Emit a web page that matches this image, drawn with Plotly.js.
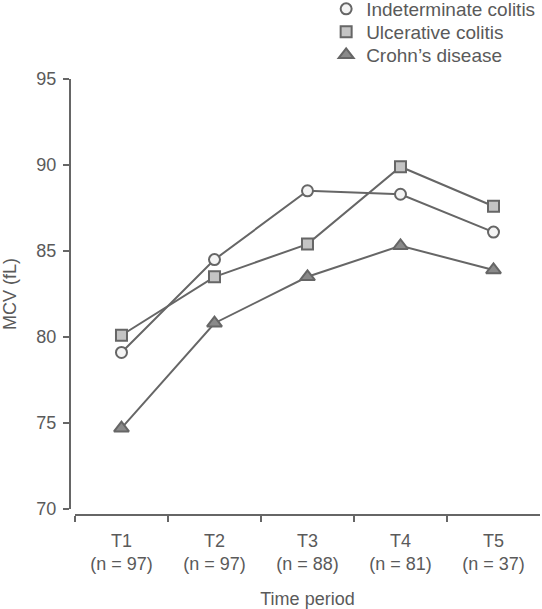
<!DOCTYPE html>
<html>
<head>
<meta charset="utf-8">
<script src="https://cdn.plot.ly/plotly-3.0.1.min.js"></script>
<style>html,body{margin:0;padding:0;background:#fff;}#chart{width:542px;height:609px;}</style>
</head>
<body>
<div id="chart"></div>
<script>
const categories = ['T1<br>(n = 97)', 'T2<br>(n = 97)', 'T3<br>(n = 88)', 'T4<br>(n = 81)', 'T5<br>(n = 37)'];
const seriesNames = ['Indeterminate colitis', 'Ulcerative colitis', "Crohn\u2019s disease"];
const indeterminate = [79.1, 84.5, 88.5, 88.3, 86.1];
const ulcerative = [80.1, 83.5, 85.4, 89.9, 87.6];
const crohns = [74.7, 80.8, 83.5, 85.3, 83.9];
const yTicks = [70, 75, 80, 85, 90, 95];

const gray = '#666666';
const font = {family: '"Liberation Sans", Arial, sans-serif', size: 18, color: '#5a5a5a'};
const legendFont = {family: font.family, size: 19, color: '#5a5a5a'};
const seriesValues = [indeterminate, ulcerative, crohns];
const symbols = ['circle', 'square', 'triangle-up'];
const fills = ['#f4f4f4', '#c4c4c4', '#8a8a8a'];
const legendIds = ['legend', 'legend2', 'legend3'];

const traces = [];
seriesValues.forEach((vals) => {
  traces.push({x: categories, y: vals, type: 'scatter', mode: 'lines', showlegend: false,
    line: {color: gray, width: 2}, hoverinfo: 'skip'});
});
seriesValues.forEach((vals, i) => {
  traces.push({x: categories, y: vals, type: 'scatter', mode: 'markers', name: seriesNames[i],
    legend: legendIds[i],
    marker: {symbol: symbols[i], size: i === 2 ? 13 : 11, color: fills[i], line: {color: gray, width: 2}}});
});

// plot area: top at 79px, height 436px
function legendBox(topPx) {
  return {x: 0.545, y: 1 + (79 - topPx) / 436, xanchor: 'left', yanchor: 'top', font: legendFont,
    bgcolor: 'rgba(0,0,0,0)', itemwidth: 30};
}

const layout = {
  width: 542, height: 609,
  margin: {l: 70, r: 2, t: 79, b: 94, pad: 0, autoexpand: false},
  paper_bgcolor: '#fff', plot_bgcolor: '#fff',
  font: font,
  showlegend: true,
  legend: legendBox(-10),
  legend2: legendBox(13),
  legend3: legendBox(36),
  xaxis: {
    type: 'category', range: [-0.5, 4.5], domain: [0.0106, 1],
    showline: true, linecolor: gray, linewidth: 2,
    ticks: 'outside', tickson: 'boundaries', ticklen: 6, tickwidth: 2, tickcolor: gray,
    showgrid: false, zeroline: false, tickfont: font, ticklabelstandoff: 9,
    title: {text: 'Time period', font: font, standoff: 24},
    automargin: false, anchor: 'free', position: 0
  },
  yaxis: {
    range: [70, 95], domain: [0.0138, 1], tickvals: yTicks,
    showline: true, linecolor: gray, linewidth: 2,
    ticks: 'outside', ticklen: 6, tickwidth: 2, tickcolor: gray,
    showgrid: false, zeroline: false, tickfont: font, ticklabelstandoff: 3,
    title: {text: 'MCV (fL)', font: font, standoff: 15},
    automargin: false, anchor: 'free', position: 0
  }
};

Plotly.newPlot('chart', traces, layout, {displayModeBar: false, staticPlot: true});
</script>
</body>
</html>
